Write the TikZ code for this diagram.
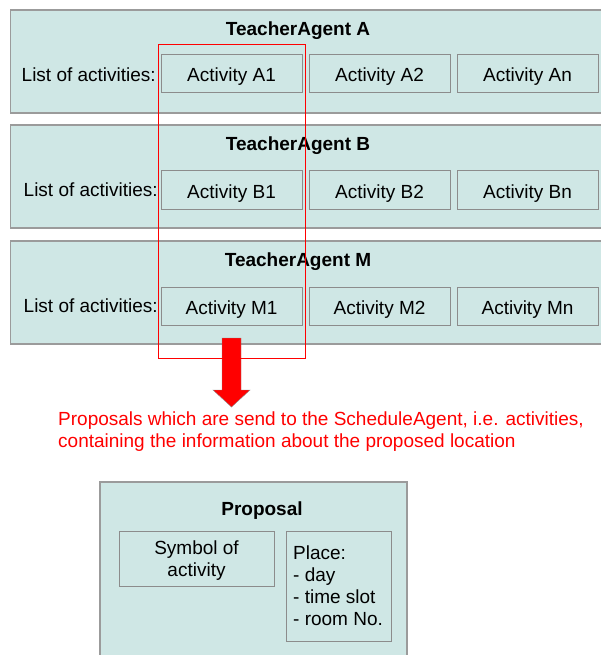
\documentclass[tikz,border=0pt]{standalone}
\usepackage{fontspec}
\setmainfont{Liberation Sans}
\definecolor{panelfill}{RGB}{207,231,229}
\definecolor{panelline}{RGB}{155,155,155}
\definecolor{boxline}{RGB}{140,140,140}
\definecolor{alertred}{RGB}{255,0,0}
\begin{document}
\begin{tikzpicture}[x=1pt,y=-1pt,
  every node/.style={font=\fontsize{19}{22}\selectfont, inner sep=0pt},
  panel/.style={fill=panelfill, draw=panelline, line width=1.3pt},
  actbox/.style={fill=panelfill, draw=boxline, line width=1pt},
  activity/.style={actbox, minimum width=141pt, minimum height=38pt,
    text height=20pt, text depth=4pt},
  title/.style={font=\fontsize{19}{22}\selectfont\bfseries},
  redtext/.style={text=alertred, align=left, anchor=north west},
  highlight/.style={draw=alertred, line width=0.9pt}]
\useasboundingbox (0,0) rectangle (601,655);

% agent panels
\foreach \name/\top/\listx in {A/10/156, B/125/158, M/241/158}{
  \draw[panel] (10.5,\top) rectangle (610,\top+103);
  \node[title] (title\name) at (298,\top+21) {TeacherAgent \name};
  \node[anchor=east] (list\name) at (\listx,\top+65) {List of activities:};
}
% activity boxes
\foreach \name/\top in {A/55, B/171, M/287}{
  \node[activity] (act\name1) at (231.5,\top+19) {Activity \name1};
  \node[activity] (act\name2) at (379.5,\top+19) {Activity \name2};
  \node[activity] (act\name n) at (527.5,\top+19) {Activity \name n};
}

% block arrow towards the proposal
\draw[fill=alertred, draw=boxline, line width=0.4pt]
  (222,338) -- (241,338) -- (241,390) -- (250,390) -- (231.5,407)
  -- (213,390) -- (222,390) -- cycle;
% highlighted column of first activities
\node[highlight, minimum width=147pt, minimum height=314pt] (column) at (231.5,201) {};

\node[redtext] (note) at (58,412) {Proposals which are send to the ScheduleAgent, i.e. activities,\\containing the information about the proposed location};

% proposal structure
\draw[panel] (100,482) rectangle (407,670);
\node[title] (proptitle) at (262,511) {Proposal};
\node[actbox, minimum width=155pt, minimum height=55pt] (symbol) at (196.5,558.5) {};
\node[align=center] (symboltext) at (196.5,561) {Symbol of\\activity};
\node[actbox, minimum width=105pt, minimum height=110pt] (place) at (338.5,586) {};
\node[align=left, anchor=north west] (placetext) at (293,546) {Place:\\- day\\- time slot\\- room No.};
\end{tikzpicture}
\end{document}
